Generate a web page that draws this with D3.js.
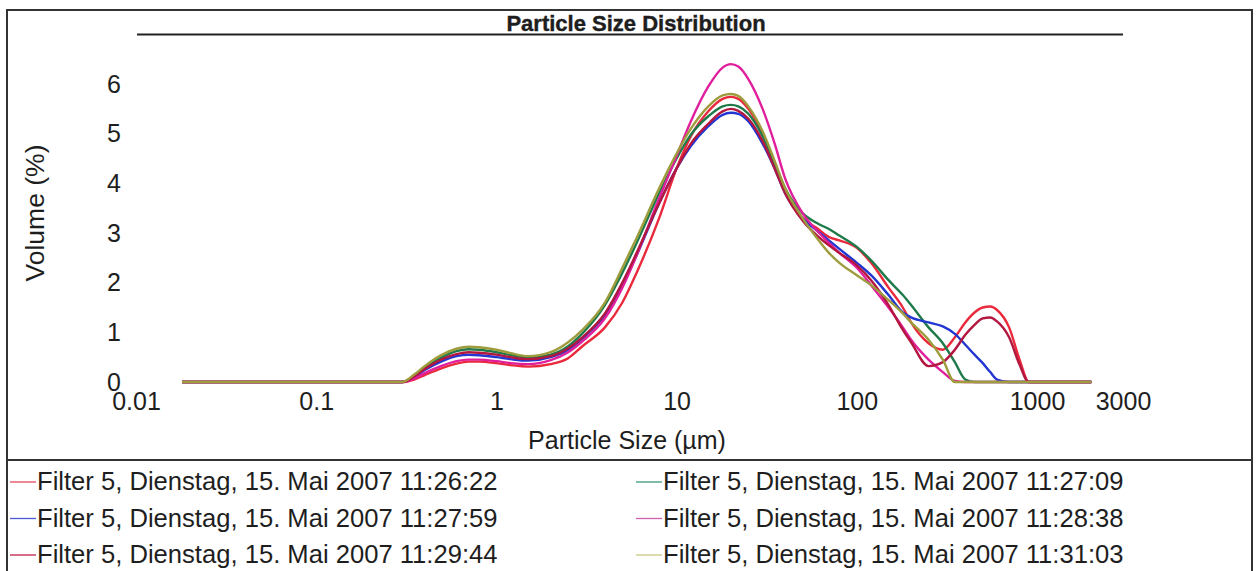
<!DOCTYPE html>
<html>
<head>
<meta charset="utf-8">
<script src="https://cdn.jsdelivr.net/npm/d3@7"></script>
<style>
  body { margin: 0; background: #fff; }
  svg { display: block; font-family: "Liberation Sans", Arial, sans-serif; }
</style>
</head>
<body>
<svg id="chart" width="1257" height="571"></svg>
<script>
// ---- data ----
const sizes = [0.018, 0.3, 0.35, 0.4, 0.5, 0.6, 0.7, 0.8, 1, 1.2, 1.5, 2, 2.5, 3, 4, 5, 6, 8, 10, 12, 15, 18, 20, 22, 25, 30, 35, 40, 50, 60, 70, 80, 100, 120, 150, 180, 200, 250, 300, 350, 400, 450, 500, 550, 600, 700, 800, 900, 2000];

const seriesNames = [
  "Filter 5, Dienstag, 15. Mai 2007 11:26:22",
  "Filter 5, Dienstag, 15. Mai 2007 11:27:09",
  "Filter 5, Dienstag, 15. Mai 2007 11:27:59",
  "Filter 5, Dienstag, 15. Mai 2007 11:28:38",
  "Filter 5, Dienstag, 15. Mai 2007 11:29:44",
  "Filter 5, Dienstag, 15. Mai 2007 11:31:03"
];

const red = [0,0,0.05,0.14,0.28,0.37,0.41,0.41,0.38,0.34,0.31,0.36,0.48,0.72,1.1,1.6,2.2,3.3,4.3,4.95,5.45,5.7,5.74,5.7,5.5,5.0,4.4,3.85,3.3,3.1,2.92,2.85,2.7,2.4,1.9,1.5,1.2,0.78,0.65,0.9,1.2,1.4,1.5,1.52,1.45,1.1,0.45,0,0];
const green = [0,0,0.13,0.28,0.5,0.62,0.66,0.65,0.6,0.54,0.49,0.55,0.72,0.98,1.55,2.2,2.8,3.8,4.5,4.98,5.35,5.55,5.58,5.55,5.4,4.95,4.4,3.9,3.4,3.2,3.08,2.95,2.72,2.45,2.05,1.75,1.55,1.1,0.78,0.4,0.05,0,0,0,0,0,0,0,0];
const blue = [0,0,0.1,0.24,0.42,0.52,0.55,0.54,0.5,0.46,0.43,0.5,0.65,0.88,1.35,1.95,2.55,3.6,4.3,4.75,5.15,5.38,5.42,5.4,5.25,4.8,4.3,3.8,3.3,3.05,2.85,2.68,2.4,2.15,1.75,1.4,1.3,1.2,1.12,0.97,0.75,0.55,0.38,0.2,0.05,0,0,0,0];
const magenta = [0,0,0.07,0.18,0.33,0.42,0.45,0.45,0.42,0.38,0.36,0.44,0.6,0.82,1.28,1.9,2.55,3.7,4.55,5.25,5.95,6.33,6.4,6.35,6.1,5.5,4.8,4.1,3.4,3.05,2.8,2.6,2.3,1.95,1.5,1.1,0.85,0.45,0.2,0.02,0,0,0,0,0,0,0,0,0];
const crimson = [0,0,0.11,0.26,0.46,0.56,0.6,0.59,0.55,0.5,0.46,0.52,0.68,0.9,1.38,2.0,2.6,3.6,4.3,4.8,5.2,5.45,5.5,5.46,5.3,4.85,4.3,3.8,3.25,2.95,2.75,2.6,2.35,2.05,1.55,1.05,0.8,0.32,0.4,0.65,0.95,1.15,1.28,1.3,1.22,0.9,0.35,0,0];
const olive = [0,0,0.15,0.32,0.55,0.67,0.71,0.7,0.65,0.58,0.52,0.6,0.8,1.05,1.6,2.3,2.9,3.9,4.6,5.1,5.55,5.77,5.8,5.76,5.55,5.05,4.45,3.9,3.3,2.9,2.6,2.4,2.15,1.95,1.65,1.38,1.2,0.85,0.45,0,0,0,0,0,0,0,0,0,0];

const seriesValues = [red, green, blue, magenta, crimson, olive];
const seriesColors = ["#ea2a3c", "#1f7a4a", "#2236d2", "#e01f9c", "#b3163f", "#9e9c3c"];
const legendColors = ["#e04a5a", "#3a9a7a", "#4a5ad0", "#d060b0", "#c02048", "#c8c880"];

const xTicks = [0.01, 0.1, 1, 10, 100, 1000, 3000];
const yTicks = [0, 1, 2, 3, 4, 5, 6];

// ---- drawing ----
const svg = d3.select("#chart");
const ink = "#1e1e1e";

// frame
svg.append("rect").attr("x", 7).attr("y", 10).attr("width", 1245).attr("height", 580)
  .attr("fill", "none").attr("stroke", "#333").attr("stroke-width", 2);
svg.append("line").attr("x1", 7).attr("x2", 1252).attr("y1", 460).attr("y2", 460)
  .attr("stroke", "#333").attr("stroke-width", 2);

// title
svg.append("text").attr("x", 636).attr("y", 31).attr("text-anchor", "middle")
  .attr("font-size", 22).attr("font-weight", "bold").attr("fill", ink)
  .attr("stroke", ink).attr("stroke-width", 0.4)
  .text("Particle Size Distribution");
svg.append("line").attr("x1", 137).attr("x2", 1123).attr("y1", 34.5).attr("y2", 34.5)
  .attr("stroke", "#222").attr("stroke-width", 1.8);

const x = d3.scaleLog().domain([0.01, 3000]).range([136, 1123]);
const y = d3.scaleLinear().domain([0, 6]).range([382, 84]);

// axes (no domain lines, no tick marks)
const xAxis = d3.axisBottom(x).tickValues(xTicks).tickSize(0).tickPadding(10)
  .tickFormat(d => String(d));
const gx = svg.append("g").attr("transform", "translate(0,382)").call(xAxis);
gx.select(".domain").remove();
gx.selectAll("text").attr("font-size", 25).attr("fill", ink).attr("font-family", "Liberation Sans, Arial, sans-serif");

const yAxis = d3.axisLeft(y).tickValues(yTicks).tickSize(0).tickPadding(9)
  .tickFormat(d3.format("d"));
const gy = svg.append("g").attr("transform", "translate(130,0)").call(yAxis);
gy.select(".domain").remove();
gy.selectAll("text").attr("font-size", 25).attr("fill", ink).attr("font-family", "Liberation Sans, Arial, sans-serif");

// axis titles
svg.append("text").attr("x", 627).attr("y", 449).attr("text-anchor", "middle")
  .attr("font-size", 25).attr("fill", ink).text("Particle Size (µm)");
svg.append("text").attr("transform", "translate(44,213) rotate(-90)").attr("text-anchor", "middle")
  .attr("font-size", 26.5).attr("fill", ink).text("Volume (%)");

// lines
const line = d3.line()
  .x(d => x(d[0]))
  .y(d => y(d[1]))
  .curve(d3.curveMonotoneX);

seriesValues.forEach((vals, i) => {
  const pts = sizes.map((s, j) => [s, vals[j]]);
  svg.append("path").datum(pts)
    .attr("fill", "none")
    .attr("stroke", seriesColors[i])
    .attr("stroke-width", 2.4)
    .attr("stroke-linejoin", "round")
    .attr("d", line);
});

// legend
const legend = svg.append("g");
seriesNames.forEach((name, i) => {
  const col = i % 2, row = Math.floor(i / 2);
  const lx = col === 0 ? 10 : 636;
  const by = 490 + row * 36.5;
  legend.append("line").attr("x1", lx).attr("x2", lx + 26)
    .attr("y1", by - 8).attr("y2", by - 8)
    .attr("stroke", legendColors[i]).attr("stroke-width", 1.3);
  legend.append("text").attr("x", lx + 27).attr("y", by)
    .attr("font-size", 25.6).attr("fill", ink).text(name);
});
</script>
</body>
</html>
